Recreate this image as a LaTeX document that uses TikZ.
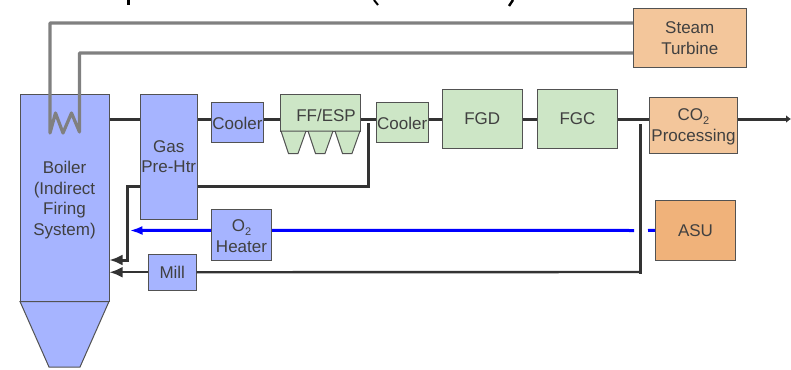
\documentclass[tikz,border=0pt]{standalone}
\usepackage{fontspec}
\setmainfont{Liberation Sans}
\usetikzlibrary{arrows.meta}
\definecolor{unitblue}{HTML}{A6B4FF}
\definecolor{unitgreen}{HTML}{CDE6C6}
\definecolor{unitpeach}{HTML}{F3C69B}
\definecolor{unitorange}{HTML}{F0B27A}
\definecolor{linedark}{HTML}{333333}
\definecolor{linegray}{HTML}{808080}
\definecolor{labelgray}{HTML}{404040}
\newcommand{\subtwo}{\raisebox{-3.5pt}{\fontsize{11}{11}\selectfont 2}}
\tikzset{%
	>={Latex},
	txt/.style = {text = labelgray, align = center, inner sep = 0pt, font = \fontsize{17}{20.5}\selectfont},
	unit/.style = {draw = linedark!85, line width = 1pt, fill = #1, txt},
	gas/.style = {draw = linedark, line width = 3pt},
	feed/.style = {draw = linedark, line width = 2.4pt},
	steam/.style = {draw = linegray, line width = 3.2pt, line join = round},
	oxy/.style = {draw = blue, line width = 3pt},
	tip/.style = {-{Latex[length = 13pt, width = 11pt]}}
}
\begin{document}
\begin{tikzpicture}[x=1pt,y=-1pt]
			\useasboundingbox (0,0) rectangle (791,369);
			\begin{scope}
			\clip (0,0) rectangle (791,369);
			\draw [black, line width = 2.4pt] (128.5,0) -- (128.5,5);
			\draw [black, line width = 2pt] (374,0) -- (378,5);
			\draw [black, line width = 2.4pt] (513,0) -- (509,6);
			\end{scope}
			% boiler
			\draw [unit = unitblue] (20,301.5) -- (109,301.5) -- (80,367) -- (49,367) -- cycle;
			\node [unit = unitblue, minimum width = 89pt, minimum height = 207pt, label = {[txt, yshift = -2pt]center:{Boiler\\(Indirect\\Firing\\System)}}] (boiler) at (64.5,198) {};
			% units
			\node [unit = unitblue, minimum width = 57.5pt, minimum height = 124.5pt] (heater) at (168.75,156.75) {Gas\\Pre-Htr};
			\node [unit = unitblue, minimum width = 52pt, minimum height = 39.5pt, label = {[txt, yshift = -1pt]center:Cooler}] (coolerA) at (237.5,122.25) {};
			\node [unit = unitgreen, minimum width = 80pt, minimum height = 36.5pt, label = {[txt, xshift = 5.5pt, yshift = -3pt]center:FF/ESP}] (esp) at (320.5,112.75) {};
			\foreach \hx in {281,308,335}
				\draw [unit = unitgreen] (\hx,131) -- (\hx+25,131) -- (\hx+17,153.5) -- (\hx+7.5,153.5) -- cycle;
			\node [unit = unitgreen, minimum width = 51.5pt, minimum height = 39.5pt, label = {[txt, yshift = -1pt]center:Cooler}] (coolerB) at (402.25,122.25) {};
			\node [unit = unitgreen, minimum width = 79.5pt, minimum height = 59pt] (fgd) at (482.25,119) {FGD};
			\node [unit = unitgreen, minimum width = 80pt, minimum height = 59pt] (fgc) at (577.5,119) {FGC};
			\node [unit = unitpeach, minimum width = 88pt, minimum height = 56.5pt, label = {[txt, yshift = -1.5pt]center:{CO\subtwo\\Processing}}] (co2) at (693.5,125.25) {};
			\node [unit = unitpeach, minimum width = 112.5pt, minimum height = 59pt] (turbine) at (689.75,38) {Steam\\Turbine};
			\node [unit = unitorange, minimum width = 80pt, minimum height = 59.5pt] (asu) at (695.5,230.25) {ASU};
			\node [unit = unitblue, minimum width = 60pt, minimum height = 50.5pt, label = {[txt, yshift = -1.5pt]center:{O\subtwo\\Heater}}] (o2heater) at (241.5,234.75) {};
			\node [unit = unitblue, minimum width = 47.5pt, minimum height = 35.5pt] (mill) at (172.25,272.25) {Mill};
			% free ends
			\coordinate (coilA) at (50,133);
			\coordinate (coilB) at (79.5,132);
			\coordinate (recycletop) at (368.5,123);
			\coordinate (recycleleft) at (127.5,186);
			\coordinate (tapped) at (640,124);
			\coordinate (outlet) at (791,119);
			\coordinate (oxyend) at (129.5,230.5);
			% steam loop
			\draw [steam] (turbine.west |- 0,23) -- (50,23) -- (coilA) -- (55.5,113) -- (63,133) -- (71.5,113) -- (coilB) -- (79.5,53) -- (turbine.west |- 0,53);
			% flue gas
			\draw [gas] (boiler.east |- 0,119) -- (heater.west |- 0,119);
			\draw [gas] (heater.east |- 0,119) -- (coolerA.west |- 0,119);
			\draw [gas] (coolerA.east |- 0,119) -- (esp.west |- 0,119);
			\draw [gas] (esp.east |- 0,119) -- (coolerB.west |- 0,119);
			\draw [gas] (coolerB.east |- 0,119) -- (fgd.west);
			\draw [gas] (fgd.east) -- (fgc.west);
			\draw [gas] (fgc.east) -- (co2.west |- fgc.east);
			\draw [gas, -{Latex[length = 5pt, width = 8pt]}] (co2.east |- fgc.east) -- (outlet);
			% recycle
			\draw [gas] (recycletop) -- (368.5,186) -- (heater.east |- 0,186);
			\draw [gas] (heater.west |- 0,186) -- (recycleleft) -- (127.5,260) -- (119,260);
			\draw [feed, tip] (119,260) -- (boiler.east |- 0,260);
			\draw [gas] (tapped) -- (640,273.5);
			\draw [feed] (640,272) -- (mill.east);
			\draw [feed, tip] (mill.west) -- (boiler.east |- mill.west);
			% oxygen
			\draw [oxy] (asu.west) -- (648,230.5);
			\draw [oxy] (634,230.5) -- (o2heater.east |- asu.west);
			\draw [oxy, -{Latex[length = 13pt, width = 9pt]}] (o2heater.west |- asu.west) -- (oxyend);
			\end{tikzpicture}
\end{document}
